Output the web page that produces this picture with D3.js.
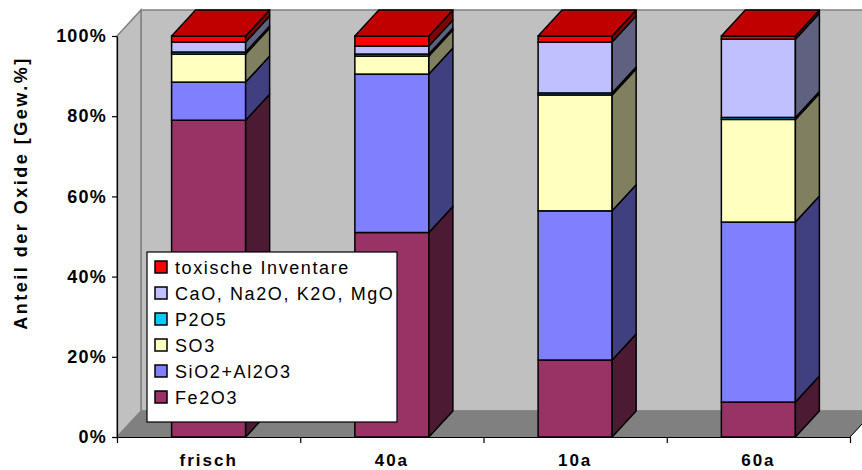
<!DOCTYPE html>
<html><head><meta charset="utf-8">
<script src="https://cdn.jsdelivr.net/npm/d3@7"></script>
<style>
html,body{margin:0;padding:0;background:#fff;}
text{font-family:"Liberation Sans",Arial,sans-serif;}
</style></head>
<body><svg id="c" width="862" height="470"></svg>
<script>
const categories = ["frisch", "40a", "10a", "60a"];
const seriesNames = ["Fe2O3", "SiO2+Al2O3", "SO3", "P2O5", "CaO, Na2O, K2O, MgO", "toxische Inventare"];
const fe2o3 = [79, 51, 19.2, 8.7];
const sio2  = [9.5, 39.5, 37.2, 44.9];
const so3   = [7, 4.5, 28.9, 25.6];
const p2o5  = [0.5, 0.5, 0.5, 0.5];
const cao   = [2.5, 2, 12.7, 19.5];
const toxic = [1.5, 2.5, 1.5, 0.8];
const yTicks = [0, 20, 40, 60, 80, 100];

const frontColors = ["#993366", "#8080ff", "#ffffc0", "#00ccff", "#c0c0ff", "#ff0000"];
const sideColors  = ["#4d1a33", "#404080", "#808060", "#006680", "#606080", "#800000"];
const topColor = "#c00000";

const seriesVals = [fe2o3, sio2, so3, p2o5, cao, toxic];
const rows = categories.map((c, i) => {
  const r = {cat: c};
  seriesNames.forEach((s, k) => r[s] = seriesVals[k][i]);
  return r;
});
const stacked = d3.stack().keys(seriesNames)(rows);

const svg = d3.select("#c");
const X0 = 117, X1 = 850, Y0 = 437, Y1 = 36;
const DX = 24, DY = -26;

const x = d3.scaleBand().domain(categories).range([X0, X1]).paddingInner(0.596).paddingOuter(0.298);
const y = d3.scaleLinear().domain([0, 100]).range([Y0, Y1]);

// walls
const wallStroke = "#808080";
svg.append("polygon")
  .attr("points", [[X0 + DX, Y1 + DY], [X1 + DX + 40, Y1 + DY], [X1 + DX + 40, Y0 + DY], [X0 + DX, Y0 + DY]].join(" "))
  .attr("fill", "#c0c0c0").attr("stroke", wallStroke).attr("stroke-width", 1.5);
svg.append("polygon")
  .attr("points", [[X0, Y1], [X0 + DX, Y1 + DY], [X0 + DX, Y0 + DY], [X0, Y0]].join(" "))
  .attr("fill", "#c0c0c0").attr("stroke", wallStroke).attr("stroke-width", 1.5);
svg.append("polygon")
  .attr("points", [[X0, Y0], [X0 + DX, Y0 + DY], [X1 + DX, Y0 + DY], [X1, Y0]].join(" "))
  .attr("fill", "#808080").attr("stroke", wallStroke).attr("stroke-width", 1);
svg.append("line").attr("x1", X1).attr("y1", Y0).attr("x2", X1 + DX).attr("y2", Y0 + DY)
  .attr("stroke", "#000").attr("stroke-width", 1);

// bars
const g = svg.append("g");
categories.forEach((c, i) => {
  const bx = x(c), bw = x.bandwidth();
  stacked.forEach((layer, k) => {
    const d = layer[i];
    const yt = y(d[1]), yb = y(d[0]);
    if (d[1] - d[0] <= 0) return;
    g.append("rect").attr("x", bx).attr("y", yt).attr("width", bw).attr("height", yb - yt)
      .attr("fill", frontColors[k]).attr("stroke", "#000").attr("stroke-width", 1.5);
    g.append("polygon")
      .attr("points", [[bx + bw, yt], [bx + bw + DX, yt + DY], [bx + bw + DX, yb + DY], [bx + bw, yb]].join(" "))
      .attr("fill", sideColors[k]).attr("stroke", "#000").attr("stroke-width", 1.5).attr("stroke-linejoin", "round");
  });
  const top = y(stacked[stacked.length - 1][i][1]);
  g.append("polygon")
    .attr("points", [[bx, top], [bx + DX, top + DY], [bx + bw + DX, top + DY], [bx + bw, top]].join(" "))
    .attr("fill", topColor).attr("stroke", "#000").attr("stroke-width", 1.5).attr("stroke-linejoin", "round");
});

// y axis
const yAxis = svg.append("g").attr("transform", `translate(${X0},0)`)
  .call(d3.axisLeft(y).tickValues(yTicks).tickFormat(d => d + "%").tickSize(5).tickPadding(5).tickSizeOuter(0));
yAxis.select(".domain").attr("stroke", "#000").attr("stroke-width", 1.2);
yAxis.selectAll(".tick line").attr("stroke", "#000").attr("stroke-width", 1.2);
yAxis.selectAll("text").attr("font-size", 18).attr("font-weight", "bold").attr("fill", "#000")
  .attr("letter-spacing", "1.2px").attr("font-family", "Liberation Sans, Arial, sans-serif");

// x axis
const xl = d3.scaleLinear().domain([0, categories.length]).range([X0, X1]);
const xAxis = svg.append("g").attr("transform", `translate(0,${Y0})`)
  .call(d3.axisBottom(xl).tickValues(d3.range(categories.length + 1)).tickFormat("").tickSize(6).tickSizeOuter(0));
xAxis.select(".domain").attr("stroke", "#000").attr("stroke-width", 1.2);
xAxis.selectAll(".tick line").attr("stroke", "#000").attr("stroke-width", 1.2);
svg.append("g").selectAll("text").data(categories).join("text")
  .attr("x", d => x(d) + x.bandwidth() / 2).attr("y", 466)
  .attr("text-anchor", "middle").attr("font-size", 17).attr("font-weight", "bold")
  .attr("letter-spacing", "2px").text(d => d);

// y title
svg.append("text").attr("transform", "translate(27,193) rotate(-90)")
  .attr("text-anchor", "middle").attr("font-size", 18).attr("font-weight", "bold")
  .attr("letter-spacing", "2.5px").text("Anteil der Oxide [Gew.%]");

// legend
const lg = svg.append("g");
lg.append("rect").attr("x", 147).attr("y", 252).attr("width", 250).attr("height", 170)
  .attr("fill", "#fff").attr("stroke", "#000").attr("stroke-width", 1.2);
const legendOrder = seriesNames.map((s, k) => k).reverse();
legendOrder.forEach((k, j) => {
  const cy = 267 + j * 26;
  lg.append("rect").attr("x", 155).attr("y", cy - 6).attr("width", 12).attr("height", 12)
    .attr("fill", frontColors[k]).attr("stroke", "#000").attr("stroke-width", 1.5);
  lg.append("text").attr("x", 175).attr("y", cy + 6.5).attr("font-size", 18)
    .attr("letter-spacing", "1.6px").text(seriesNames[k]);
});
</script></body></html>
